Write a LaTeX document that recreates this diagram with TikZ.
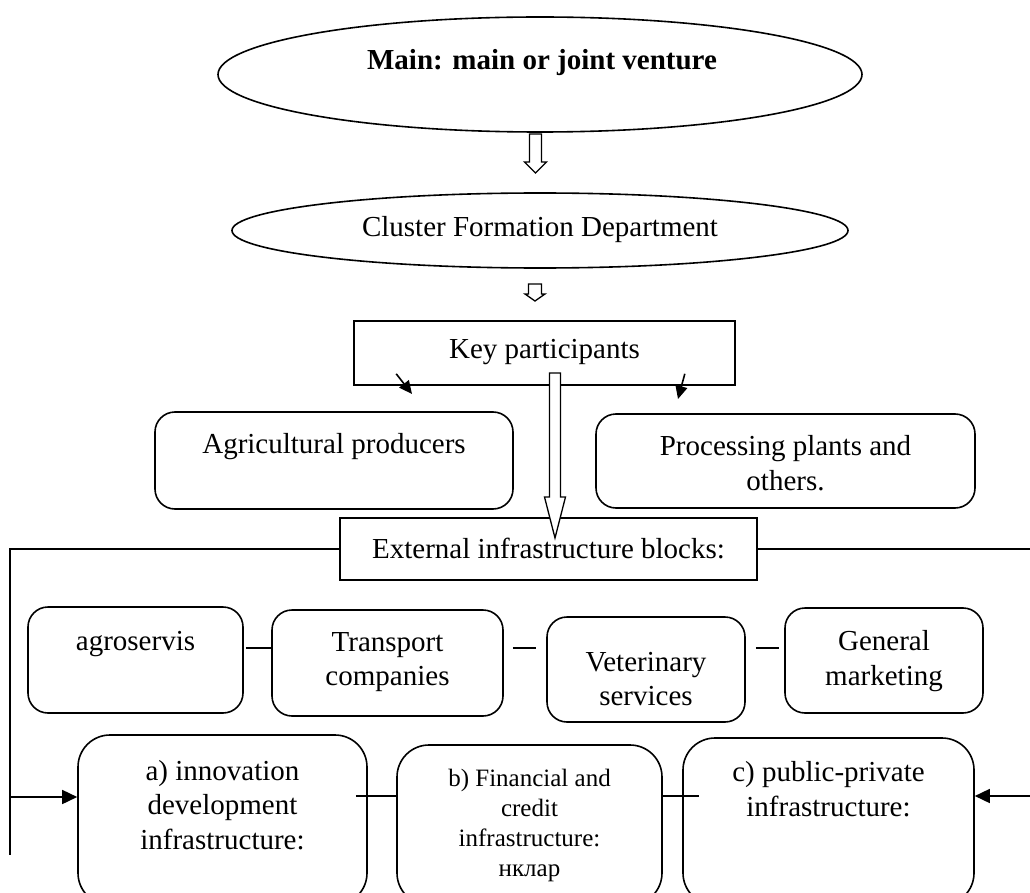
\documentclass[tikz,border=0pt]{standalone}
\usepackage{fontspec}
\setmainfont{Liberation Serif}
\usetikzlibrary{shapes.geometric,arrows.meta,calc}
\begin{document}
\begin{tikzpicture}[x=1pt,y=-1pt,
  lw/.style={line width=1.6pt},
  ell/.style={draw,lw,ellipse,inner sep=0pt},
  rbox/.style={draw,lw,rectangle,inner sep=0pt},
  rrbox/.style={draw,lw,rectangle,rounded corners=20pt,inner sep=0pt},
  bigbox/.style={draw,lw,rectangle,rounded corners=32pt,inner sep=0pt},
  txt/.style={inner sep=0pt,align=center,font=\fontsize{29}{34.5}\selectfont},
  smalltxt/.style={inner sep=0pt,align=center,font=\fontsize{25}{30}\selectfont},
  conn/.style={lw},
  arr/.style={lw,-{Triangle[length=15pt,width=14pt]}},
  sarr/.style={lw,-{Triangle[length=13pt,width=12pt]}},
  hollow/.style={line width=1.3pt,fill=white}
]
\useasboundingbox (0,0) rectangle (1030,893);
\newcommand\harrow[6]{\draw[hollow] ({#1-#5},#2) -- ({#1+#5},#2) -- ({#1+#5},#3) -- ({#1+#6},#3) -- (#1,#4) -- ({#1-#6},#3) -- ({#1-#5},#3) -- cycle;}

% top ellipses
\node[ell,minimum width=644pt,minimum height=115pt] (e1) at (540,74.5) {};
\node[txt,font=\fontsize{29}{33}\selectfont\bfseries] (t1) at (542,63) {Main: main or joint venture};
\node[ell,minimum width=616pt,minimum height=75pt] (e2) at (540,230.5) {};
\node[txt] (t2) at (540,230) {Cluster Formation Department};

% key participants
\node[rbox,minimum width=381pt,minimum height=64pt] (key) at (544.5,353) {};
\node[txt,anchor=base] (t3) at (544.5,358) {Key participants};

% producers
\node[rrbox,minimum width=358pt,minimum height=97pt] (agri) at (334,460.5) {};
\node[txt,anchor=base] (t4) at (334,453) {Agricultural producers};
\node[rrbox,minimum width=379pt,minimum height=94pt] (proc) at (785.5,461) {};
\node[txt] (t5) at (785.5,463) {Processing plants and\\others.};

% external
\node[rbox,minimum width=417pt,minimum height=62pt] (ext) at (548.5,549) {};
\node[txt,anchor=base] (t6) at (548.5,558) {External infrastructure blocks:};

% row of services
\node[rrbox,minimum width=215pt,minimum height=106pt] (agro) at (135.5,660) {};
\node[txt,anchor=base] (t7) at (135.5,650) {agroservis};
\node[rrbox,minimum width=231pt,minimum height=106pt] (trans) at (387.5,663) {};
\node[txt] (t8) at (387.5,662) {Transport\\companies};
\node[rrbox,minimum width=198pt,minimum height=105pt] (vet) at (646,669.5) {};
\node[txt] (t9) at (646,679) {Veterinary\\services};
\node[rrbox,minimum width=198pt,minimum height=105pt] (gen) at (884,660.5) {};
\node[txt] (t10) at (884,661) {General\\marketing};

% bottom blocks
\node[bigbox,minimum width=289pt,minimum height=170pt] (ba) at (222.5,820) {};
\node[txt] (t11) at (222.5,805) {a) innovation\\development\\infrastructure:};
\node[bigbox,minimum width=265pt,minimum height=160pt] (bb) at (529.5,825) {};
\node[smalltxt] (t12) at (529.5,825) {b) Financial and\\credit\\infrastructure:\\нклар};
\node[bigbox,minimum width=291pt,minimum height=167pt] (bc) at (828.5,821.5) {};
\node[txt] (t13) at (828.5,789) {c) public-private\\infrastructure:};

% hollow arrows
\harrow{535.5}{134}{162}{173}{6}{11}
\harrow{535}{284}{294}{301}{6.5}{10}
\harrow{555}{373}{497}{538}{5.5}{10.5}

% key participant arrows
\coordinate (k1s) at ($(key.south west)+(43,-12)$);
\coordinate (k1e) at (412,394);
\draw[sarr] (k1s) -- (k1e);
\coordinate (k2s) at ($(key.south east)+(-51,-12)$);
\coordinate (k2e) at (678,399);
\draw[sarr] (k2s) -- (k2e);

% external side lines
\coordinate (lt) at (10,549);
\coordinate (lb) at (10,855);
\coordinate (la) at (10,797);
\coordinate (rt) at (1030,549);
\coordinate (ra) at (1030,796);
\draw[conn] (ext.west) -- (lt) -- (lb);
\draw[conn] (ext.east) -- (rt);
\draw[arr] (la) -- ($(ba.west)+(0,-23)$);
\draw[arr] (ra) -- ($(bc.east)+(0,-25.5)$);

% connectors in service row
\draw[conn] ($(agro.east)+(2,-12)$) -- ($(trans.west)+(0,-15)$);
\draw[conn] ($(trans.east)+(9,-15)$) -- ($(vet.west)+(-10,-21.5)$);
\draw[conn] ($(vet.east)+(10,-21.5)$) -- ($(gen.west)+(-5,-12.5)$);

% connectors in bottom row
\draw[conn] ($(ba.east)+(-12,-24)$) -- ($(bb.west)+(0,-29)$);
\draw[conn] ($(bb.east)+(0,-29)$) -- ($(bc.west)+(17,-25.5)$);
\end{tikzpicture}
\end{document}
